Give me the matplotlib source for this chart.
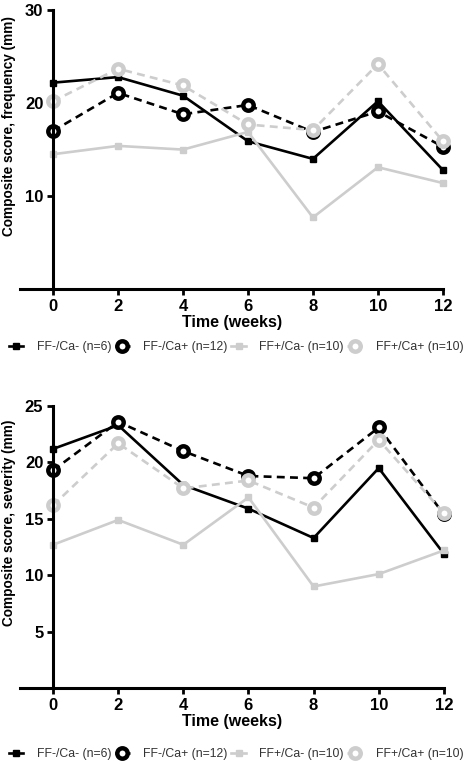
import matplotlib
matplotlib.use("Agg")
import matplotlib.pyplot as plt
from matplotlib.lines import Line2D

plt.rcParams['font.family'] = ['Liberation Sans', 'DejaVu Sans']

weeks = [0, 2, 4, 6, 8, 10, 12]
labels = ['FF-/Ca- (n=6)', 'FF-/Ca+ (n=12)', 'FF+/Ca- (n=10)', 'FF+/Ca+ (n=10)']

# composite score, frequency (mm)
freq_ffm_cam = [22.2, 22.8, 20.8, 15.9, 14.0, 20.2, 12.8]
freq_ffm_cap = [17.0, 21.1, 18.8, 19.8, 16.9, 19.1, 15.3]
freq_ffp_cam = [14.5, 15.4, 15.0, 16.9, 7.7, 13.1, 11.4]
freq_ffp_cap = [20.2, 23.7, 21.9, 17.7, 17.1, 24.2, 15.9]

# composite score, severity (mm)
sev_ffm_cam = [21.2, 23.3, 18.0, 15.9, 13.3, 19.5, 11.9]
sev_ffm_cap = [19.3, 23.6, 21.0, 18.8, 18.6, 23.1, 15.4]
sev_ffp_cam = [12.7, 14.9, 12.7, 16.9, 9.0, 10.1, 12.2]
sev_ffp_cap = [16.2, 21.7, 17.7, 18.4, 16.0, 22.0, 15.5]

gray = '#cdcdcd'
styles = [
    dict(color='black', ls='-', marker='s', ms=5, mfc='black', mec='black', mew=1),
    dict(color='black', ls=(0, (3, 2)), marker='o', ms=7.5, mfc='white', mec='black', mew=3.2),
    dict(color=gray, ls='-', marker='s', ms=5, mfc=gray, mec=gray, mew=1),
    dict(color=gray, ls=(0, (3, 2)), marker='o', ms=7.5, mfc='white', mec=gray, mew=3.2),
]

fig = plt.figure(figsize=(4.72, 7.64), dpi=100)
ax1 = fig.add_axes([0.0434, 0.6217, 0.895, 0.365])
ax2 = fig.add_axes([0.0434, 0.0995, 0.897, 0.369])


def setup(ax, series, ylim, yticks, ylabel):
    for s, st in zip(series, styles):
        ax.plot(weeks, s, lw=1.9, clip_on=False, **st)
    ax.set_xlim(-1, 12)
    ax.set_ylim(*ylim)
    ax.spines['left'].set_position(('data', 0))
    ax.spines['right'].set_visible(False)
    ax.spines['top'].set_visible(False)
    for sp in ('left', 'bottom'):
        ax.spines[sp].set_linewidth(2.2)
    ax.set_xticks(weeks)
    ax.set_yticks(yticks)
    ax.tick_params(width=2, length=4, labelsize=12, pad=3)
    for t in ax.get_xticklabels() + ax.get_yticklabels():
        t.set_fontweight('bold')
    ax.set_xlabel('Time (weeks)', fontsize=11.5, fontweight='bold', labelpad=1)
    ax.set_ylabel(ylabel, fontsize=9.8, fontweight='bold')
    ax.yaxis.set_label_coords(-0.011, 0.585)


setup(ax1, [freq_ffm_cam, freq_ffm_cap, freq_ffp_cam, freq_ffp_cap],
      (0, 30), [10, 20, 30], 'Composite score, frequency (mm)')
setup(ax2, [sev_ffm_cam, sev_ffm_cap, sev_ffp_cam, sev_ffp_cap],
      (0, 25), [5, 10, 15, 20, 25], 'Composite score, severity (mm)')

handles = [Line2D([], [], lw=1.9, **st) for st in styles]
for yy in (1 - 347 / 764, 1 - 754 / 764):
    fig.legend(handles, labels, loc='center', bbox_to_anchor=(0.5, yy), ncol=4,
               frameon=False, fontsize=8.8, handlelength=1.2, handletextpad=1.1,
               columnspacing=0.3, labelcolor='#333333')

fig.savefig('out.png', dpi=100)
